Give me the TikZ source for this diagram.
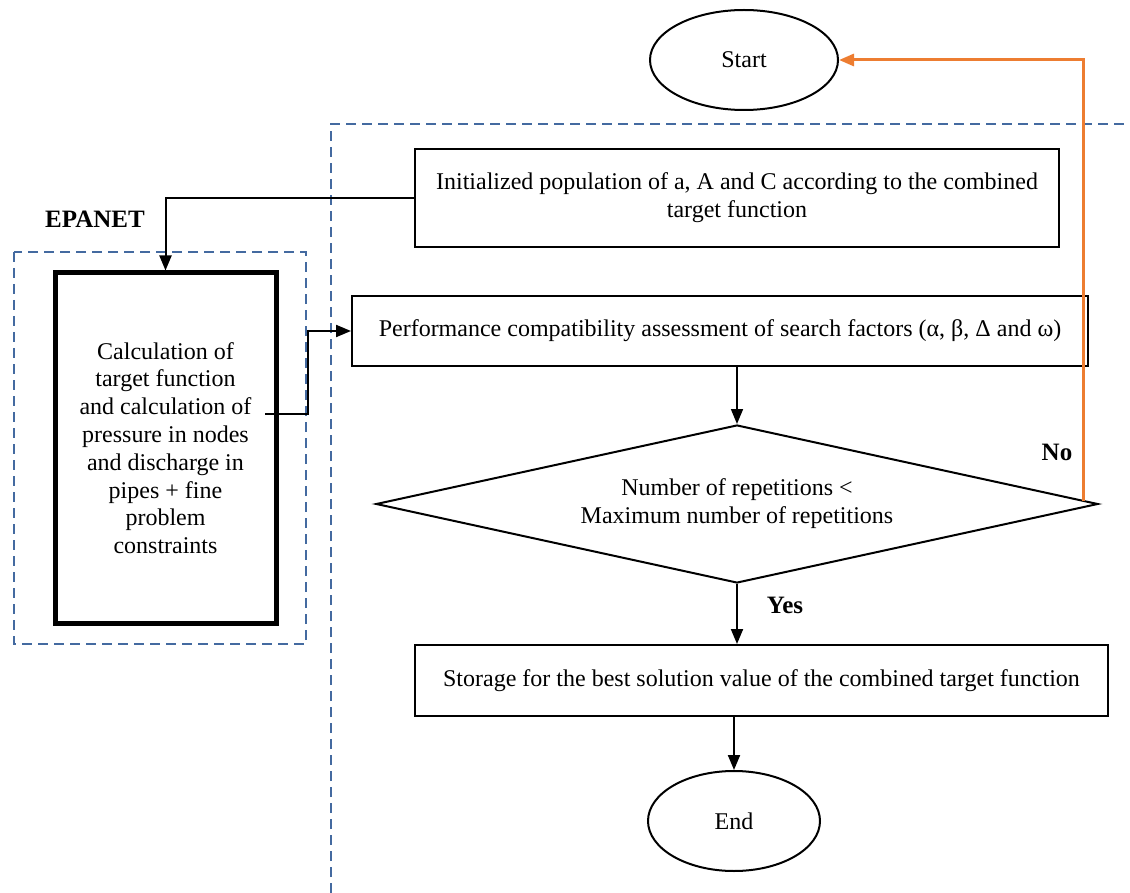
\documentclass[tikz,border=0pt]{standalone}
\usepackage{fontspec}
\setmainfont{Liberation Serif}
\usepackage{xcolor}
\usetikzlibrary{shapes.geometric, arrows.meta, positioning}

\definecolor{frameblue}{RGB}{68,106,160}
\definecolor{looporange}{RGB}{237,125,49}

\begin{document}
\begin{tikzpicture}[
	x=0.5pt, y=-0.5pt,
	font=\fontsize{12}{13.9}\selectfont,
	box/.style={draw, line width=1pt, rectangle, align=center, inner sep=0pt},
	calcbox/.style={draw, line width=2.5pt, rectangle, align=center, inner sep=0pt, minimum width=110.5pt, minimum height=175pt},
	term/.style={draw, line width=1pt, ellipse, minimum width=94pt, minimum height=50pt},
	decision/.style={draw, line width=1pt, diamond, aspect=4.57, align=center, inner sep=0pt, minimum width=361pt, minimum height=79pt},
	arrow/.style={-{Triangle[length=7.5pt, width=6pt]}, line width=1pt},
	noarrow/.style={-{Triangle[length=7.5pt, width=6pt]}, line width=1.5pt, looporange},
	frame/.style={dashed, dash pattern=on 5pt off 3pt, line width=0.8pt, frameblue},
	tag/.style={font=\fontsize{12.5}{15}\selectfont\bfseries}
]
	\useasboundingbox (0,0) rectangle (1130,893);

	% dashed frames
	\draw[frame] (331,893) -- (331,124) -- (1130,124);
	\draw[frame] (14,252) rectangle (306,644);

	\node (start) [term] at (744,60) {Start};
	\node (init) [box, minimum width=322pt, minimum height=49pt] at (737,198) {Initialized population of a, A and C according to the combined\\target function};
	\node (calc) [calcbox] at (165.5,448) {Calculation of\\target function\\and calculation of\\pressure in nodes\\and discharge in\\pipes + fine\\problem\\constraints};
	\node (perf) [box, minimum width=368pt, minimum height=35pt] at (720,331) {Performance compatibility assessment of search factors (α, β, Δ and ω)};
	\node (dec) [decision] at (737,504) {Number of repetitions <\\Maximum number of repetitions};
	\node (store) [box, minimum width=346.5pt, minimum height=35.5pt] at (761.5,680.5) {Storage for the best solution value of the combined target function};
	\node (end) [term, minimum width=86pt] at (734,821) {End};

	\node (epanet) [tag] at (95,219) {EPANET};
	\node (no) [tag] at (1057,452) {No};
	\node (yes) [tag] at (785,605) {Yes};

	\coordinate (calcout) at (265,414);
	\coordinate (noout) at (1083,501);

	\draw [arrow] (init.west) -| (calc.north);
	\draw [arrow] (calcout) -- (308,414) |- (perf.west);
	\draw [arrow, line width=0.8pt] (perf.south -| dec.north) -- (dec.north);
	\draw [arrow] (dec.south) -- (dec.south |- store.north);
	\draw [arrow] (end.north |- store.south) -- (end.north);
	\draw [noarrow] (noout) |- (start.east);

\end{tikzpicture}
\end{document}
